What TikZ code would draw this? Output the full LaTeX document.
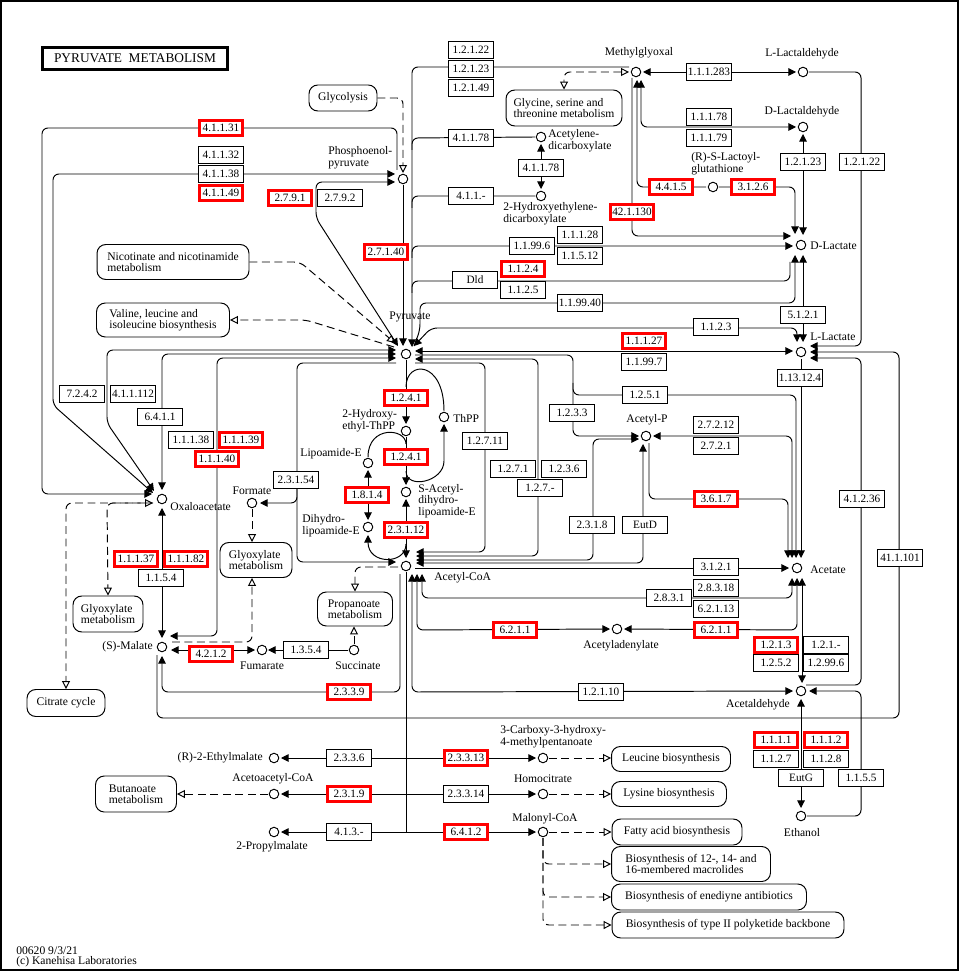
\documentclass[tikz,border=0pt]{standalone}
\usepackage{fontspec}
\setmainfont{Liberation Serif}
\usetikzlibrary{arrows.meta,calc}

\tikzset{
  >={Triangle[length=4.3pt,width=4.3pt]},
  ln/.style={line width=0.55pt,rounded corners=3.4pt},
  dsh/.style={ln,dash pattern=on 4.5pt off 2.6pt},
  oa/.style={-{Triangle[open,length=4.5pt,width=4.5pt]}},
  oao/.style={{Triangle[open,length=4.5pt,width=4.5pt]}-{Triangle[open,length=4.5pt,width=4.5pt]}},
  cpd/.style={circle,draw,line width=0.55pt,fill=white,inner sep=0pt,minimum size=0.19cm},
  lbl/.style={inner sep=0pt,align=left,font=\fontsize{6.6}{6.6}\selectfont},
  enz/.style={draw,fill=white,line width=0.55pt,inner sep=0pt,minimum width=0.91cm,minimum height=0.33cm,font=\fontsize{6.4}{6.4}\selectfont},
  enzr/.style={enz,draw=red,line width=1.5pt,minimum width=0.87cm,minimum height=0.29cm},
  mapn/.style={draw,fill=white,line width=0.55pt,rounded corners=5pt,inner sep=0pt,align=left,font=\fontsize{6.6}{6.5}\selectfont},
  ttl/.style={draw,line width=1.6pt,inner sep=0pt,minimum width=3.70cm,minimum height=0.44cm,font=\fontsize{7.6}{8}\selectfont}
}

\begin{document}
\begin{tikzpicture}[x=0.02cm,y=-0.02cm]
\useasboundingbox (0,0) rectangle (960,972);
\draw[line width=0.6pt] (1,1) rectangle (958,970);

\node[ttl] (title) at (135,58.5) {PYRUVATE\ \ METABOLISM};
\node[lbl,anchor=west] (foot1) at (16,951) {00620 9/3/21};
\node[lbl,anchor=west] (foot2) at (16,962) {(c) Kanehisa Laboratories};

\node[mapn,minimum width=1.36cm,minimum height=0.52cm] (glyc) at (343,98) {Glycolysis};
\node[mapn,minimum width=2.32cm,minimum height=0.72cm] (gly) at (564,108) {Glycine, serine and\\threonine metabolism};
\node[mapn,minimum width=3.04cm,minimum height=0.70cm] (nico) at (173,262) {Nicotinate and nicotinamide\\metabolism};
\node[mapn,minimum width=2.66cm,minimum height=0.68cm] (vali) at (163,320) {Valine, leucine and\\isoleucine biosynthesis};
\node[mapn,minimum width=1.40cm,minimum height=0.72cm] (glxa) at (108,614) {Glyoxylate\\metabolism};
\node[mapn,minimum width=1.44cm,minimum height=0.70cm] (glxb) at (256,560) {Glyoxylate\\metabolism};
\node[mapn,minimum width=1.50cm,minimum height=0.68cm] (prop) at (355,609) {Propanoate\\metabolism};
\node[mapn,minimum width=1.56cm,minimum height=0.54cm] (cit) at (66,703) {Citrate cycle};
\node[mapn,minimum width=1.62cm,minimum height=0.72cm] (buta) at (136,794) {Butanoate\\metabolism};
\node[mapn,minimum width=2.38cm,minimum height=0.50cm] (leu) at (671,759) {Leucine biosynthesis};
\node[mapn,minimum width=2.30cm,minimum height=0.50cm] (lys) at (669,794) {Lysine biosynthesis};
\node[mapn,minimum width=2.60cm,minimum height=0.52cm] (fab) at (677,832) {Fatty acid biosynthesis};
\node[mapn,minimum width=3.18cm,minimum height=0.70cm] (macr) at (691,864) {Biosynthesis of 12-, 14- and\\16-membered macrolides};
\node[mapn,minimum width=3.90cm,minimum height=0.52cm] (ened) at (709,897) {Biosynthesis of enediyne antibiotics};
\node[mapn,minimum width=4.64cm,minimum height=0.52cm] (pks) at (728,925) {Biosynthesis of type II polyketide backbone};

\node[cpd] (pep) at (403,179) {};
\node[cpd] (pyr) at (406,354) {};
\node[cpd] (mgo) at (636,72) {};
\node[cpd] (llald) at (803,72) {};
\node[cpd] (dlald) at (803,127) {};
\node[cpd] (lgsh) at (713,187) {};
\node[cpd] (dlac) at (801,245) {};
\node[cpd] (llac) at (801,352) {};
\node[cpd] (acdc) at (541,137) {};
\node[cpd] (hedc) at (541,196) {};
\node[cpd] (acp) at (646,436) {};
\node[cpd] (ace) at (797,568) {};
\node[cpd] (acad) at (617,629) {};
\node[cpd] (acald) at (801,691) {};
\node[cpd] (etoh) at (801,816) {};
\node[cpd] (accoa) at (406,566) {};
\node[cpd] (hthpp) at (406,431) {};
\node[cpd] (thpp) at (444,417) {};
\node[cpd] (sacl) at (406,492) {};
\node[cpd] (lipo) at (368,463) {};
\node[cpd] (dhlipo) at (368,527) {};
\node[cpd] (oaa) at (162,499) {};
\node[cpd] (form) at (252,503) {};
\node[cpd] (mal) at (162,647) {};
\node[cpd] (fum) at (262,650) {};
\node[cpd] (succ) at (354,650) {};
\node[cpd] (etmal) at (274,758) {};
\node[cpd] (aacoa) at (274,794) {};
\node[cpd] (prmal) at (274,832) {};
\node[cpd] (cmp) at (543,758) {};
\node[cpd] (hcit) at (543,794) {};
\node[cpd] (mcoa) at (543,832) {};

\node[lbl] (lMgo) at (639,53) {Methylglyoxal};
\node[lbl] (lLlald) at (802,54) {L-Lactaldehyde};
\node[lbl] (lDlald) at (802,112) {D-Lactaldehyde};
\node[lbl,anchor=west] (lLgsh) at (691,164) {(R)-S-Lactoyl-\\glutathione};
\node[lbl,anchor=west] (lDlac) at (810,246) {D-Lactate};
\node[lbl,anchor=west] (lLlac) at (810,337) {L-Lactate};
\node[lbl,anchor=west] (lAcdc) at (548,141) {Acetylene-\\dicarboxylate};
\node[lbl,anchor=west] (lHedc) at (503,214) {2-Hydroxyethylene-\\dicarboxylate};
\node[lbl,anchor=west] (lPep) at (328,158) {Phosphoenol-\\pyruvate};
\node[lbl,fill=white] (lPyr) at (410,317) {Pyruvate};
\node[lbl] (lAcp) at (647,420) {Acetyl-P};
\node[lbl,anchor=west] (lAce) at (810,570) {Acetate};
\node[lbl] (lAcad) at (621,646) {Acetyladenylate};
\node[lbl] (lAcald) at (758,705) {Acetaldehyde};
\node[lbl] (lEtoh) at (802,833) {Ethanol};
\node[lbl,anchor=west] (lAccoa) at (434,578) {Acetyl-CoA};
\node[lbl,anchor=west] (lHthpp) at (342,421) {2-Hydroxy-\\ethyl-ThPP};
\node[lbl,anchor=west] (lThpp) at (453,418) {ThPP};
\node[lbl,anchor=west] (lSacl) at (418,501) {S-Acetyl-\\dihydro-\\lipoamide-E};
\node[lbl] (lLipo) at (331,454) {Lipoamide-E};
\node[lbl,anchor=west] (lDhlipo) at (302,526) {Dihydro-\\lipoamide-E};
\node[lbl,anchor=west] (lOaa) at (170,507) {Oxaloacetate};
\node[lbl] (lForm) at (252,491) {Formate};
\node[lbl,anchor=east] (lMal) at (153,647) {(S)-Malate};
\node[lbl] (lFum) at (262,666) {Fumarate};
\node[lbl] (lSucc) at (358,666) {Succinate};
\node[lbl,anchor=east] (lEtmal) at (263,758) {(R)-2-Ethylmalate};
\node[lbl] (lAacoa) at (273,779) {Acetoacetyl-CoA};
\node[lbl] (lPrmal) at (272,847) {2-Propylmalate};
\node[lbl,anchor=west] (lCmp) at (500,737) {3-Carboxy-3-hydroxy-\\4-methylpentanoate};
\node[lbl] (lHcit) at (543,779) {Homocitrate};
\node[lbl] (lMcoa) at (545,819) {Malonyl-CoA};

\coordinate (b1) at (412,150);
\coordinate (b2) at (412,208);
\coordinate (b3) at (412,258);
\coordinate (b4) at (412,293);
\coordinate (j1) at (573,383);
\coordinate (j2) at (297,480);
\coordinate (k1) at (406,387);
\coordinate (k2) at (406,471);
\coordinate (k3) at (406,444);
\coordinate (k4) at (406,544);
\coordinate (tz) at (406,832);

\draw[dsh,oa] (glyc.east) -- (403,98) -- ($(pep)+(0,-6)$);
\draw[ln,->] ($(pep)+(0,6)$) -- ($(pyr)+(-3,-8)$);
\draw[ln,->] ($(pep)+(-6,-9)$) -- (397,128) -- (42,128) -- (42,494) -- ($(oaa)+(-10,-5)$);
\draw[ln,<->] ($(pep)+(-8,-5)$) -- (53,174) -- (53,405) -- ($(oaa)+(-9,-6)$);
\draw[ln,<->] ($(pep)+(-8,3)$) -- (316,182) -- (316,218) -- ($(pyr)+(-8,-8)$);
\draw[dsh,oa] (nico.east) -- (300,262) -- ($(pyr)+(-11,-11)$);
\draw[dsh,oa] ($(pyr)+(-12,-7)$) -- (306,320) -- (vali.east);

\draw[ln,->] ($(mgo)+(-7,-5)$) -- (412,67) -- ($(pyr)+(6,-7)$);
\draw[dsh,oao] ($(mgo)+(-7,0)$) -- (564,72) -- (gly.north);
\draw[ln] (b1) -- (412,138) -- ($(acdc)+(-6,0)$);
\draw[ln] (b2) -- (412,196) -- ($(hedc)+(-6,0)$);
\draw[ln,<->] ($(acdc)+(0,7)$) -- ($(hedc)+(0,-7)$);
\draw[ln,->] (b3) -- (412,246) -- ($(dlac)+(-8,1)$);
\draw[ln] (b4) -- (412,281) -- (790,281) -- ($(dlac)+(-11,17)$);
\draw[ln,->] ($(pyr)+(8,-8)$) -- (420,330) -- (420,303) -- (795,303) -- ($(dlac)+(-6,10)$);
\draw[ln,<->] ($(pyr)+(8,-8)$) -- (431,328) -- (797,328) -- ($(llac)+(-4,-10)$);

\draw[ln,<->] ($(mgo)+(7,0)$) -- ($(llald)+(-7,0)$);
\draw[ln,<->] ($(mgo)+(5,8)$) -- (641,127) -- ($(dlald)+(-7,0)$);
\draw[ln,<-] ($(mgo)+(1,8)$) -- (637,187) -- ($(lgsh)+(-7,0)$);
\draw[ln,->] ($(mgo)+(-4,6)$) -- (632,236) -- ($(dlac)+(-10,-9)$);
\draw[ln,->] ($(lgsh)+(6,0)$) -- (795,187) -- ($(dlac)+(-6,-11)$);
\draw[ln,<->] ($(dlald)+(0,7)$) -- ($(dlac)+(2,-10)$);
\draw[ln,<->] ($(dlac)+(2,10)$) -- ($(llac)+(2,-10)$);
\draw[ln,->] ($(llald)+(6,0)$) -- (861,72) -- (861,346) -- ($(llac)+(9,-6)$);

\draw[ln,<->] ($(pyr)+(9,-3)$) -- ($(llac)+(-8,-1)$);
\draw[ln,->] ($(pyr)+(9,1)$) -- (573,355) -- (573,436) -- ($(acp)+(-7,0)$);
\draw[ln,->] (j1) -- (573,395) -- (796,395) -- ($(ace)+(-1,-10)$);
\draw[ln,<->] ($(pyr)+(9,5)$) -- (538,359) -- (538,556) -- ($(accoa)+(10,-10)$);
\draw[ln,->] ($(pyr)+(9,9)$) -- (485,363) -- (485,552) -- ($(accoa)+(10,-14)$);
\draw[ln,<->] ($(acp)+(-7,3)$) -- (593,439) -- (593,560) -- ($(accoa)+(10,-6)$);
\draw[ln,<->] ($(acp)+(-3,8)$) -- (643,563) -- ($(accoa)+(10,-3)$);
\draw[ln,<->] ($(acp)+(7,0)$) -- (792,436) -- ($(ace)+(-5,-10)$);
\draw[ln,->] ($(acp)+(3,7)$) -- (649,499) -- (788,499) -- ($(ace)+(-9,-10)$);
\draw[ln,->] ($(llac)+(0,7)$) -- ($(ace)+(4,-10)$);
\draw[ln,->] ($(accoa)+(9,2)$) -- ($(ace)+(-8,0)$);
\draw[ln,<->] ($(accoa)+(16,8)$) -- (422,598) -- (792,598) -- ($(ace)+(-5,10)$);
\draw[ln,<->] ($(accoa)+(11,8)$) -- (417,630) -- ($(acad)+(-7,0)$);
\draw[ln,<->] ($(ace)+(0,10)$) -- (797,630) -- ($(acad)+(7,0)$);
\draw[ln,<->] ($(accoa)+(6,8)$) -- (412,692) -- ($(acald)+(-8,0)$);
\draw[ln,<->] ($(ace)+(5,10)$) -- ($(acald)+(1,-8)$);
\draw[ln,->] ($(acald)+(5,-6)$) -- (861,685) -- (861,358) -- ($(llac)+(9,6)$);
\draw[ln,->] ($(etoh)+(6,0)$) -- (861,816) -- (861,691) -- ($(acald)+(8,0)$);
\draw[ln,<->] ($(acald)+(0,8)$) -- ($(etoh)+(0,-8)$);

\draw[ln,->] ($(pyr)+(0,6)$) -- ($(hthpp)+(0,-7)$);
\draw[ln,->] ($(hthpp)+(0,6)$) -- ($(sacl)+(0,-7)$);
\draw[ln,<->] ($(sacl)+(0,7)$) -- ($(accoa)+(0,-8)$);
\draw[ln,<->] ($(lipo)+(0,7)$) -- ($(dhlipo)+(0,-7)$);
\draw[ln] (k1) .. controls (406,360) and (444,360) .. ($(thpp)+(0,-6)$);
\draw[ln,->] (k2) .. controls (406,490) and (444,482) .. (444,455) -- ($(thpp)+(0,7)$);
\draw[ln] (k3) .. controls (406,428) and (368,425) .. ($(lipo)+(0,-6)$);
\draw[ln,->] (k4) .. controls (406,565) and (368,565) .. ($(dhlipo)+(0,8)$);

\draw[ln,<->] ($(pyr)+(-10,-4)$) -- (107,350) -- (107,423) -- ($(oaa)+(-8,-8)$);
\draw[ln,<->] ($(pyr)+(-10,0)$) -- (162,354) -- ($(oaa)+(0,-9)$);
\draw[ln,<->] ($(pyr)+(-10,4)$) -- (217,358) -- (217,636) -- ($(mal)+(8,-11)$);
\draw[ln,->] ($(pyr)+(-10,9)$) -- (297,363) -- (297,562) -- ($(accoa)+(-10,-4)$);
\draw[ln,->] (j2) -- (297,503) -- ($(form)+(8,0)$);
\draw[dsh,oa] ($(form)+(0,6)$) -- (form |- glxb.north);
\draw[dsh,oa] ($(accoa)+(-8,1)$) -- (355,567) -- (prop.north);
\draw[dsh,oa] ($(succ)+(0,-6)$) -- (succ |- prop.south);
\draw[dsh,oa] ($(mal)+(10,-5)$) -- (252,642) -- (form |- glxb.south);

\draw[ln,<->] ($(oaa)+(0,9)$) -- ($(mal)+(0,-9)$);
\draw[dsh,oao] ($(oaa)+(-9,4)$) -- (66,503) -- (cit.north);
\draw[dsh,oa] ($(oaa)+(-9,4)$) -- (107,503) -- (glxa.north);
\draw[ln,<->] ($(mal)+(9,3)$) -- ($(fum)+(-7,0)$);
\draw[ln,->] ($(succ)+(-6,0)$) -- ($(fum)+(6,0)$);
\draw[ln,->] ($(accoa)+(-6,8)$) -- (400,692) -- (162,692) -- ($(mal)+(0,9)$);
\draw[ln,->] ($(mal)+(-5,8)$) -- (157,718) -- (899,718) -- (899,352) -- ($(llac)+(9,0)$);

\draw[ln] ($(accoa)+(0,6)$) -- (tz);
\draw[ln,<->] ($(etmal)+(7,0)$) -- ($(cmp)+(-7,0)$);
\draw[ln,<->] ($(aacoa)+(7,0)$) -- ($(hcit)+(-7,0)$);
\draw[ln,<->] ($(prmal)+(7,0)$) -- ($(mcoa)+(-7,0)$);
\draw[dsh,oa] ($(aacoa)+(-6,0)$) -- (aacoa -| buta.east);
\draw[dsh,oa] ($(cmp)+(6,0)$) -- (cmp -| leu.west);
\draw[dsh,oa] ($(hcit)+(6,0)$) -- (hcit -| lys.west);
\draw[dsh,oa] ($(mcoa)+(6,0)$) -- (mcoa -| fab.west);
\draw[dsh,oa] ($(mcoa)+(0,6)$) -- (543,864) -- (macr.west);
\draw[dsh,oa] ($(mcoa)+(0,6)$) -- (543,897) -- (ened.west);
\draw[dsh,oa] ($(mcoa)+(0,6)$) -- (543,925) -- (pks.west);

\foreach \ec/\x/\y [count=\i] in {1.2.1.22/471/50, 1.2.1.23/471/69, 1.2.1.49/471/88, 4.1.1.78/471/138, 4.1.1.78/541/168, 4.1.1.-/471/196, 1.1.99.6/532/246, 1.1.1.28/580/235, 1.1.5.12/580/256, Dld/475/280, 1.1.2.5/523/290, 1.1.99.40/580/303, 4.1.1.32/221/155, 4.1.1.38/221/174, 2.7.9.2/340/198, 1.1.1.283/709/72, 1.1.1.78/709/117, 1.1.1.79/709/138, 1.2.1.23/803/162, 1.2.1.22/862/162, 5.1.2.1/803/315, 1.1.2.3/716/327, 1.1.99.7/644/362, 1.13.12.4/800/378, 1.2.5.1/645/395, 1.2.3.3/572/413, 2.7.2.12/716/425, 2.7.2.1/716/446, EutD/645/525, 2.3.1.8/592/525, 1.2.7.11/485/441, 1.2.7.1/513/469, 1.2.3.6/564/469, 1.2.7.-/540/488, 2.3.1.54/296/480, 7.2.4.2/82/394, 4.1.1.112/133/394, 6.4.1.1/160/417, 1.1.1.38/191/440, 1.1.5.4/161/578, 1.3.5.4/306/650, 3.1.2.1/716/567, 2.8.3.18/716/588, 2.8.3.1/669/598, 6.2.1.13/716/609, 1.2.1.-/826/645, 1.2.5.2/776/663, 1.2.99.6/826/663, 1.2.1.10/601/692, 4.1.2.36/862/499, 41.1.101/900/558, 1.1.2.7/776/759, 1.1.2.8/826/759, EutG/801/778, 1.1.5.5/861/778, 2.3.3.6/349/758, 4.1.3.-/349/832, 2.3.3.14/466/794}
  \node[enz] (ek\i) at (\x,\y) {\ec};
\foreach \ec/\x/\y [count=\i] in {4.1.1.31/221/128, 4.1.1.49/221/193, 2.7.9.1/290/198, 2.7.1.40/386/252, 1.1.2.4/523/269, 4.4.1.5/671/187, 3.1.2.6/753/187, 42.1.130/632/212, 1.1.1.27/644/341, 1.2.4.1/406/398, 1.2.4.1/406/457, 1.8.1.4/367/495, 2.3.1.12/406/530, 1.1.1.39/241/440, 1.1.1.40/217/459, 1.1.1.37/136/559, 1.1.1.82/186/559, 4.2.1.2/211/654, 2.3.3.9/349/692, 3.6.1.7/716/499, 6.2.1.1/515/630, 6.2.1.1/716/630, 1.2.1.3/776/645, 1.1.1.1/776/740, 1.1.1.2/826/740, 2.3.3.13/466/758, 2.3.1.9/349/794, 6.4.1.2/466/832}
  \node[enzr] (er\i) at (\x,\y) {\ec};
\end{tikzpicture}
\end{document}
